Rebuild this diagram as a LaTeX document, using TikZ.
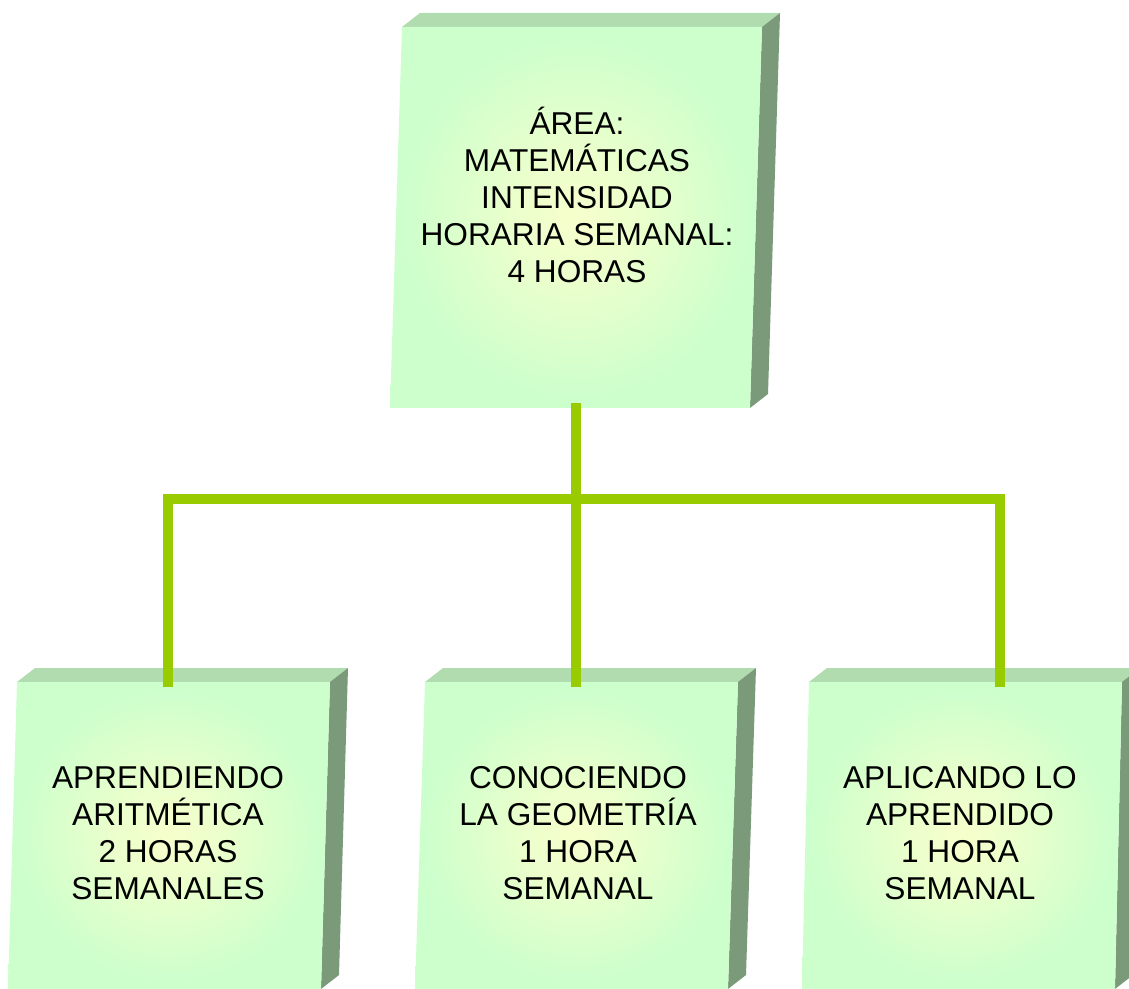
\documentclass[tikz,border=0pt]{standalone}
\usepackage{fontspec}
\setmainfont{Liberation Sans}
\usetikzlibrary{calc}
\definecolor{mint}{HTML}{CCFFCC}
\definecolor{glowc}{HTML}{F6FFCC}
\definecolor{lid}{HTML}{B0DCB0}
\definecolor{flank}{HTML}{7A9A7A}
\definecolor{stem}{HTML}{99CC00}
\pgfdeclareradialshading{glow}{\pgfpoint{0bp}{0bp}}{color(0bp)=(glowc); color(8bp)=(glowc!75!mint); color(24bp)=(mint); color(50bp)=(mint)}

\begin{document}
\begin{tikzpicture}[x=0.02cm,y=0.02cm,
  label/.style={font=\fontsize{18}{21}\selectfont,align=center,text=black},
  bus/.style={stem,line width=0.2cm,line join=miter}]
\useasboundingbox (0,0) rectangle (1129,-989);
\clip (0,0) rectangle (1129,-989);
% slabs: left x, top y, right x, bottom y, lean
\foreach \xl/\yt/\xr/\yb/\ln in {402/27/762/408/12, 17/682/330/989/9, 425/682/738/989/10, 809/682/1122/989/7}{
  \fill[lid] (\xl,-\yt) -- (\xl+18,-\yt+14) -- (\xr+18,-\yt+14) -- (\xr,-\yt) -- cycle;
  \fill[flank] (\xr,-\yt) -- (\xr+18,-\yt+14) -- (\xr+18-\ln,-\yb+14) -- (\xr-\ln,-\yb) -- cycle;
  \shade[shading=glow] (\xl,-\yt) -- (\xr,-\yt) -- (\xr-\ln,-\yb) -- (\xl-\ln,-\yb) -- cycle;
}
\node[label] (area) at (577,-195) {ÁREA:\\MATEMÁTICAS\\INTENSIDAD\\HORARIA SEMANAL:\\4 HORAS};
\node[label] (aritm) at (168,-833) {APRENDIENDO\\ARITMÉTICA\\2 HORAS\\SEMANALES};
\node[label] (geom) at (578,-833) {CONOCIENDO\\LA GEOMETRÍA\\1 HORA\\SEMANAL};
\node[label] (aplic) at (960,-833) {APLICANDO LO\\APRENDIDO\\1 HORA\\SEMANAL};
% connectors
\coordinate (areafoot) at (576,-403);
\coordinate (aritmtop) at (168,-687); \coordinate (geomtop) at (576,-687); \coordinate (aplictop) at (1000,-687);
\coordinate (busL) at (168,-499); \coordinate (busR) at (1000,-499);
\draw[bus] (areafoot) -- (geomtop);
\draw[bus] (aritmtop) -- (busL) -- (busR) -- (aplictop);
\end{tikzpicture}
\end{document}
